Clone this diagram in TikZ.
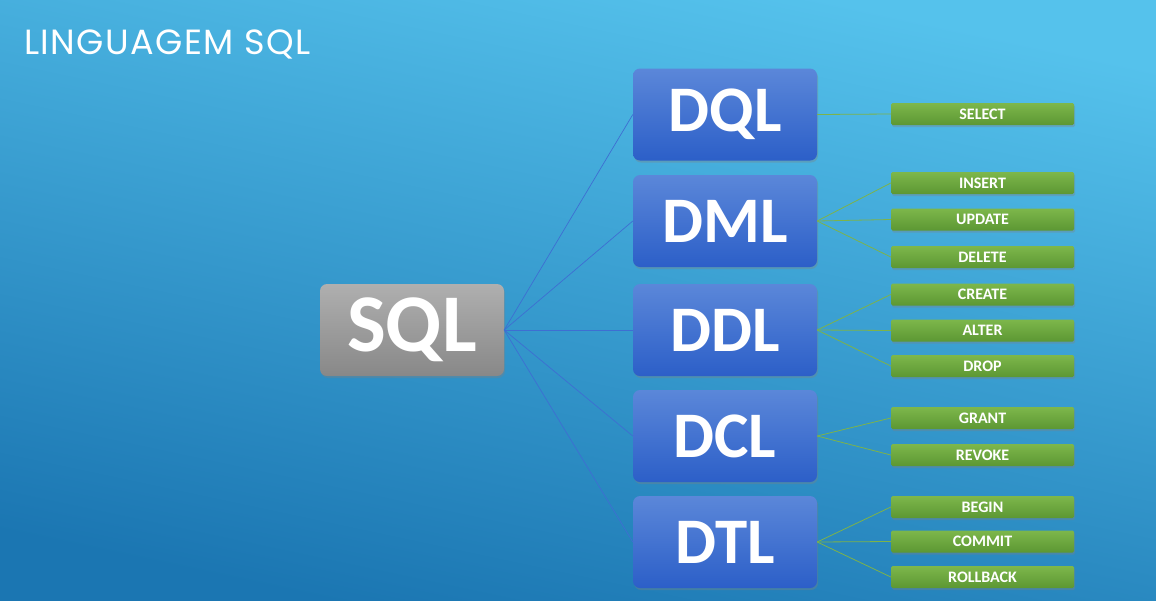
\documentclass[tikz,border=0pt]{standalone}
\usepackage{fontspec}
\setmainfont{Carlito}
\newfontfamily\titlefont[LetterSpace=4]{Poppins}
\usetikzlibrary{shadows}
\definecolor{bgtop}{HTML}{55C2EC}
\definecolor{bgbot}{HTML}{1B76B2}
\definecolor{bluetop}{HTML}{5B87D9}
\definecolor{bluebot}{HTML}{2C5FC8}
\definecolor{graytop}{HTML}{AFAFAF}
\definecolor{graybot}{HTML}{888888}
\definecolor{greentop}{HTML}{7DB74B}
\definecolor{greenbot}{HTML}{5C9733}
\definecolor{bluelink}{HTML}{3E6ED2}
\definecolor{greenlink}{HTML}{7DB34A}
\tikzset{
  x=1pt, y=-1pt,
  boxshadow/.style={drop shadow={opacity=0.35, shadow xshift=1pt, shadow yshift=-2pt}},
  bigbox/.style={rounded corners=7pt, minimum width=184pt, minimum height=92pt, inner sep=0pt,
     text=white, font=\bfseries\fontsize{65}{65}\selectfont, boxshadow},
  langbox/.style={bigbox, top color=bluetop, bottom color=bluebot},
  sqlbox/.style={bigbox, top color=graytop, bottom color=graybot, font=\bfseries\fontsize{82}{82}\selectfont},
  cmdbox/.style={rounded corners=1.5pt, minimum width=183pt, minimum height=22pt, inner sep=0pt,
     top color=greentop, bottom color=greenbot, text=white, font=\bfseries\fontsize{16}{16}\selectfont, boxshadow},
  bluelinkstyle/.style={draw=bluelink, line width=0.7pt},
  greenlinkstyle/.style={draw=greenlink, line width=0.8pt},
}
\begin{document}
\begin{tikzpicture}
\shade[top color=bgtop, bottom color=bgbot, shading angle=-12] (0,0) rectangle (1156,600);
\useasboundingbox (0,0) rectangle (1156,600);
\node[anchor=base west, text=white, font=\titlefont\fontsize{35}{35}\selectfont, inner sep=0pt] (title) at (24,54) {LINGUAGEM SQL};

\node[sqlbox] (sql) at (412,330) {SQL};
\node[langbox] (dql) at (725,114.5) {DQL};
\node[langbox] (dml) at (725,221) {DML};
\node[langbox] (ddl) at (725,330) {DDL};
\node[langbox] (dcl) at (725,436) {DCL};
\node[langbox] (dtl) at (725,542) {DTL};

\node[cmdbox] (select) at (982.5,114) {SELECT};
\node[cmdbox] (insert) at (982.5,183) {INSERT};
\node[cmdbox] (update) at (982.5,219.5) {UPDATE};
\node[cmdbox] (delete) at (982.5,257) {DELETE};
\node[cmdbox] (create) at (982.5,294.5) {CREATE};
\node[cmdbox] (alter) at (982.5,330.5) {ALTER};
\node[cmdbox] (drop) at (982.5,366) {DROP};
\node[cmdbox] (grant) at (982.5,418) {GRANT};
\node[cmdbox] (revoke) at (982.5,455) {REVOKE};
\node[cmdbox] (begin) at (982.5,507) {BEGIN};
\node[cmdbox] (commit) at (982.5,541.5) {COMMIT};
\node[cmdbox] (rollback) at (982.5,577) {ROLLBACK};

\foreach \t in {dql,dml,ddl,dcl,dtl}
  \draw[bluelinkstyle] (sql.east) -- (\t.west);
\draw[greenlinkstyle] (dql.east) -- (select.west);
\foreach \t in {insert,update,delete} \draw[greenlinkstyle] (dml.east) -- (\t.west);
\foreach \t in {create,alter,drop} \draw[greenlinkstyle] (ddl.east) -- (\t.west);
\foreach \t in {grant,revoke} \draw[greenlinkstyle] (dcl.east) -- (\t.west);
\foreach \t in {begin,commit,rollback} \draw[greenlinkstyle] (dtl.east) -- (\t.west);
\end{tikzpicture}
\end{document}
